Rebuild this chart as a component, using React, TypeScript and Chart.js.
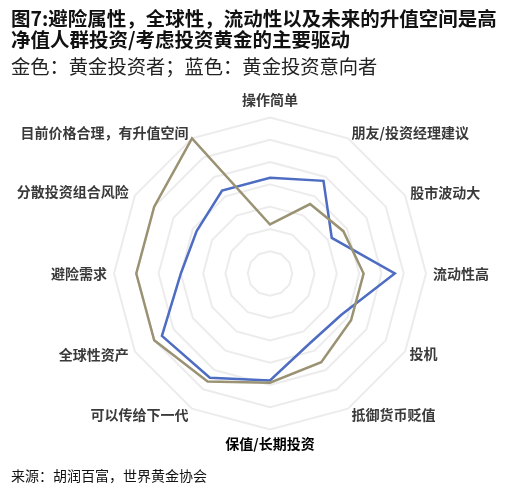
import React, { useEffect, useRef } from "react";
import { Chart, registerables } from "chart.js";

Chart.register(...registerables);

// ---- data ----
const categories = [
  "操作简单",
  "朋友/投资经理建议",
  "股市波动大",
  "流动性高",
  "投机",
  "抵御货币贬值",
  "保值/长期投资",
  "可以传给下一代",
  "全球性资产",
  "避险需求",
  "分散投资组合风险",
  "目前价格合理，有升值空间",
];
const seriesNames = ["黄金投资者", "黄金投资意向者"];
const goldInvestors = [22, 36, 38, 42, 42, 46, 49, 56, 60, 60, 60, 70];
const prospectiveInvestors = [43, 48, 32, 56, 37, 36, 48, 54, 56, 40, 38, 43];
const scaleMin = 0;
const scaleMax = 70;
const scaleStep = 10;

const titleLines = [
  "图7:避险属性，全球性，流动性以及未来的升值空间是高",
  "净值人群投资/考虑投资黄金的主要驱动",
];
const subtitleText = "金色：黄金投资者；蓝色：黄金投资意向者";
const sourceText = "来源：胡润百富，世界黄金协会";

// ---- layout / style ----
const W = 513;
const H = 493;
const CX = 270;
const CY = 273.5;
const RADIUS = 156;
const LABEL_PAD = [18, 7, 6, 7, 5, 7, 14, 7, 7, 7, 7, 7];
const FONT = '"Noto Sans CJK SC", "Noto Sans", sans-serif';
const GOLD = "#9a9273";
const BLUE = "#4d6cc2";

export default function App() {
  const ref = useRef<HTMLCanvasElement>(null);

  useEffect(() => {
    if (!ref.current) return;
    const chart = new Chart(ref.current, {
      type: "radar",
      data: {
        labels: categories,
        datasets: [
          {
            label: seriesNames[0],
            data: goldInvestors,
            borderColor: GOLD,
            backgroundColor: "transparent",
            borderWidth: 2.5,
            fill: false,
            pointRadius: 0,
            pointHoverRadius: 0,
          },
          {
            label: seriesNames[1],
            data: prospectiveInvestors,
            borderColor: BLUE,
            backgroundColor: "transparent",
            borderWidth: 2.5,
            fill: false,
            pointRadius: 0,
            pointHoverRadius: 0,
          },
        ],
      },
      options: {
        responsive: false,
        animation: false,
        layout: { padding: 0 },
        elements: { line: { tension: 0 } },
        plugins: {
          legend: { display: false },
          tooltip: { enabled: false },
          title: { display: false },
        },
        scales: {
          r: {
            min: scaleMin,
            max: scaleMax,
            ticks: { display: false, stepSize: scaleStep },
            grid: { color: "#ececec", lineWidth: 2 },
            angleLines: { display: false },
            pointLabels: {
              padding: (ctx: any) => LABEL_PAD[ctx.index] ?? 7,
              color: (ctx: any) => (ctx.index === 6 ? "#000000" : "#3a3a3a"),
              font: (ctx: any) => ({
                family: FONT,
                size: 14,
                weight: "bold",
                lineHeight: 0.01,
              }),
            },
            afterSetDimensions: (s: any) => {
              s.xCenter = CX;
              s.yCenter = CY;
              s.drawingArea = RADIUS;
            },
          } as any,
        },
      },
    });
    return () => chart.destroy();
  }, []);

  return (
    <div style={{ position: "absolute", left: 0, top: 0, width: W, height: H, background: "#fff", overflow: "hidden" }}>
      <canvas
        ref={ref}
        width={W}
        height={H}
        style={{ position: "absolute", left: 0, top: 0, width: W, height: H }}
      />
      <div
        style={{
          position: "absolute",
          left: 11,
          top: 8,
          fontFamily: FONT,
          fontWeight: 700,
          fontSize: "19.5px",
          lineHeight: "20.5px",
          color: "#111",
          whiteSpace: "nowrap",
        }}
      >
        {titleLines.map((t, i) => (
          <div key={i}>{t}</div>
        ))}
      </div>
      <div
        style={{
          position: "absolute",
          left: 11,
          top: 55,
          fontFamily: FONT,
          fontWeight: 400,
          fontSize: "19.3px",
          lineHeight: "22px",
          color: "#222",
          whiteSpace: "nowrap",
        }}
      >
        {subtitleText}
      </div>
      <div
        style={{
          position: "absolute",
          left: 11,
          top: 466,
          fontFamily: FONT,
          fontWeight: 400,
          fontSize: "14px",
          lineHeight: "18px",
          color: "#111",
          whiteSpace: "nowrap",
        }}
      >
        {sourceText}
      </div>
    </div>
  );
}
